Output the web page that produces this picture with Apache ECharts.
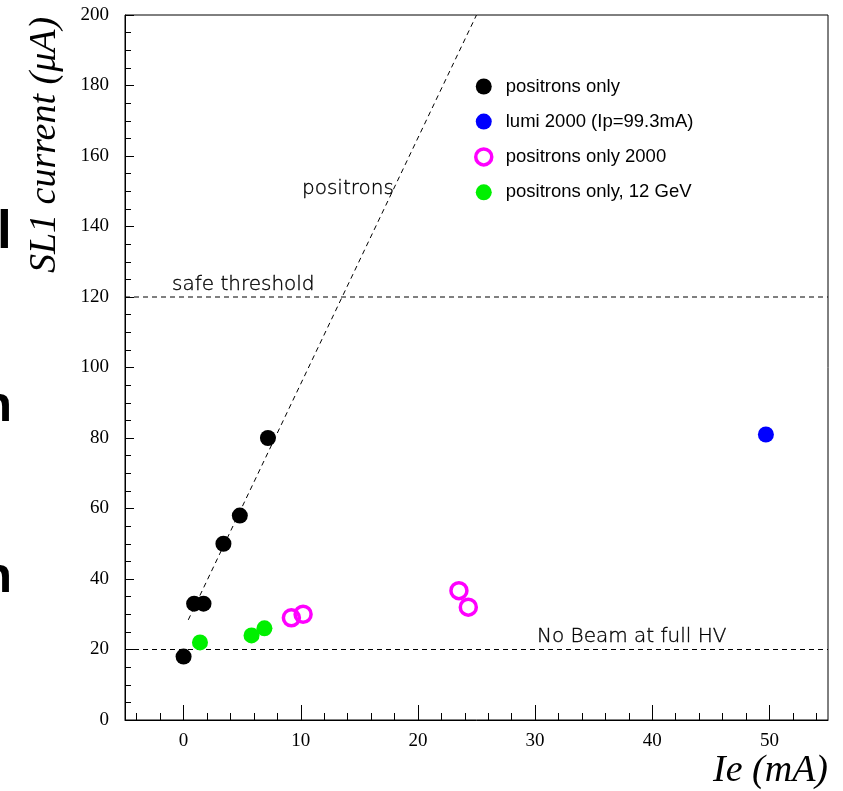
<!DOCTYPE html>
<html>
<head>
<meta charset="utf-8">
<script src="https://cdn.jsdelivr.net/npm/echarts@6/dist/echarts.min.js"></script>
<style>
  html, body { margin: 0; padding: 0; background: #fff; }
  #chart { width: 843px; height: 791px; }
</style>
</head>
<body>
<div id="chart"></div>
<script>
// data
const posOnlyX = [0, 0.9, 1.7, 3.4, 4.8, 7.2];
const posOnlyY = [18, 33, 33, 50, 58, 80];
const lumiX = [49.7];
const lumiY = [81];
const pos2000X = [9.2, 10.2, 23.5, 24.3];
const pos2000Y = [29, 30, 36.7, 32];
const pos12X = [1.4, 5.8, 6.9];
const pos12Y = [22, 24, 26];
// dashed "positrons" trend line
const fitX = [0.4, 25];
const fitY = [28.4, 200];
// horizontal reference levels
const xSpan = [-5, 55];
const safeLevel = 120;
const noBeamLevel = 20;
// tick positions
const xMajorTicks = [0, 10, 20, 30, 40, 50];
const xMinorTicks = [-4, -2, 2, 4, 6, 8, 12, 14, 16, 18, 22, 24, 26, 28, 32, 34, 36, 38, 42, 44, 46, 48, 52, 54];

const pairs = (xs, ys) => xs.map((x, i) => [x, ys[i]]);

const chart = echarts.init(document.getElementById('chart'));

const dashed = { color: '#000', width: 1, type: [5, 4] };
const noteFont = {
  fontFamily: 'DejaVu Sans', fontWeight: 200, fontSize: 20, fill: '#000',
  stroke: '#000', lineWidth: 0.35
};
const clipFont = { fontFamily: 'Liberation Sans', fontWeight: 'bold', fill: '#000', textVerticalAlign: 'middle' };

const option = {
  animation: false,
  grid: {
    left: 125, right: 15, top: 15, bottom: 71,
    show: true, borderColor: '#000', borderWidth: 1
  },
  xAxis: [
    {
      type: 'value', min: xSpan[0], max: xSpan[1],
      axisLine: { onZero: false, lineStyle: { color: '#000', width: 1 } },
      axisTick: { inside: true, length: 15, customValues: xMajorTicks, lineStyle: { color: '#000' } },
      axisLabel: {
        customValues: xMajorTicks, margin: 12, color: '#000',
        fontFamily: 'Liberation Serif', fontSize: 19
      },
      splitLine: { show: false }
    },
    {
      type: 'value', min: xSpan[0], max: xSpan[1], position: 'bottom',
      axisLine: { show: false, onZero: false },
      axisTick: { inside: true, length: 7, customValues: xMinorTicks, lineStyle: { color: '#000' } },
      axisLabel: { show: false },
      splitLine: { show: false }
    }
  ],
  yAxis: {
    type: 'value', min: 0, max: 200, interval: 20,
    axisLine: { show: true, onZero: false, lineStyle: { color: '#000', width: 1 } },
    axisTick: { show: true, inside: true, length: 9, lineStyle: { color: '#000' } },
    minorTick: { show: true, splitNumber: 4, length: 6, lineStyle: { color: '#000' } },
    axisLabel: { margin: 16, color: '#000', fontFamily: 'Liberation Serif', fontSize: 19 },
    splitLine: { show: false }
  },
  legend: {
    orient: 'vertical', left: 469, top: 72,
    itemWidth: 16, itemHeight: 16, itemGap: 16.1,
    textStyle: { fontFamily: 'Liberation Sans', fontSize: 18.5, color: '#000', padding: [0, 0, 0, 9] },
    data: [
      { name: 'positrons only', icon: 'circle' },
      { name: 'lumi 2000 (Ip=99.3mA)', icon: 'circle' },
      {
        name: 'positrons only 2000', icon: 'circle',
        itemStyle: { color: 'rgba(255,255,255,0)', borderColor: '#ff00ff', borderWidth: 3.5 }
      },
      { name: 'positrons only, 12 GeV', icon: 'circle' }
    ]
  },
  series: [
    {
      type: 'line', data: pairs(fitX, fitY), symbol: 'none', silent: true,
      lineStyle: dashed, z: 1
    },
    {
      type: 'line', data: pairs(xSpan, [safeLevel, safeLevel]), symbol: 'none', silent: true,
      lineStyle: dashed, z: 1
    },
    {
      type: 'line', data: pairs(xSpan, [noBeamLevel, noBeamLevel]), symbol: 'none', silent: true,
      lineStyle: dashed, z: 1
    },
    {
      name: 'positrons only', type: 'scatter', data: pairs(posOnlyX, posOnlyY),
      symbolSize: 16, itemStyle: { color: '#000', opacity: 1 }, z: 3
    },
    {
      name: 'lumi 2000 (Ip=99.3mA)', type: 'scatter', data: pairs(lumiX, lumiY),
      symbolSize: 16, itemStyle: { color: '#0000ff', opacity: 1 }, z: 3
    },
    {
      name: 'positrons only 2000', type: 'scatter', data: pairs(pos2000X, pos2000Y),
      symbolSize: 16,
      itemStyle: { color: 'rgba(255,255,255,0)', borderColor: '#ff00ff', borderWidth: 3.5, opacity: 1 }, z: 3
    },
    {
      name: 'positrons only, 12 GeV', type: 'scatter', data: pairs(pos12X, pos12Y),
      symbolSize: 16, itemStyle: { color: '#00f000', opacity: 1 }, z: 3
    }
  ],
  graphic: [
    {
      type: 'text', x: 45, y: 145, rotation: Math.PI / 2,
      style: {
        text: 'SL1 current (\u03bcA)', fontFamily: 'Liberation Serif', fontStyle: 'italic',
        fontSize: 38, fill: '#000', textAlign: 'center', textVerticalAlign: 'middle'
      }
    },
    {
      type: 'text', x: 828, y: 771,
      style: {
        text: 'Ie (mA)', fontFamily: 'Liberation Serif', fontStyle: 'italic',
        fontSize: 38, fill: '#000', textAlign: 'right', textVerticalAlign: 'middle'
      }
    },
    { type: 'text', x: 302, y: 189, style: Object.assign({ text: 'positrons', textVerticalAlign: 'middle' }, noteFont) },
    { type: 'text', x: 172, y: 285, style: Object.assign({ text: 'safe threshold', textVerticalAlign: 'middle' }, noteFont) },
    { type: 'text', x: 537, y: 637, style: Object.assign({ text: 'No Beam at full HV', textVerticalAlign: 'middle' }, noteFont) },
    // clipped letters at the left edge
    { type: 'text', x: -3, y: 233, style: Object.assign({ text: 'l', fontSize: 53 }, clipFont) },
    { type: 'text', x: 12, y: 407, style: Object.assign({ text: 'n', fontSize: 50, textAlign: 'right' }, clipFont) },
    { type: 'text', x: 12, y: 578, style: Object.assign({ text: 'n', fontSize: 50, textAlign: 'right' }, clipFont) }
  ]
};

chart.setOption(option);
</script>
</body>
</html>
